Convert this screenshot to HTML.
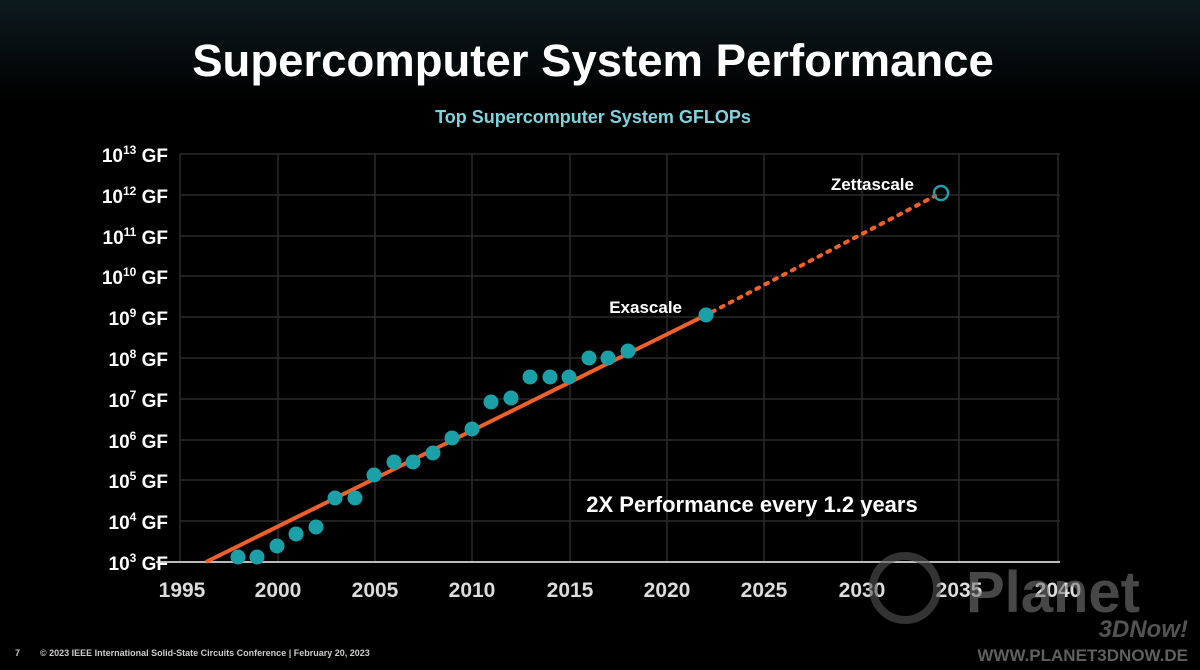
<!DOCTYPE html>
<html><head><style>
html,body{margin:0;padding:0;background:#000;}
svg{display:block}
text{font-family:"Liberation Sans",Arial,sans-serif;font-weight:bold}
</style></head><body>
<svg width="1200" height="670" viewBox="0 0 1200 670" xmlns="http://www.w3.org/2000/svg">
<defs>
<linearGradient id="bg" x1="0" y1="0" x2="0" y2="1">
<stop offset="0" stop-color="#0d1a1e"/><stop offset="0.15" stop-color="#000"/><stop offset="1" stop-color="#000"/>
</linearGradient>
</defs>
<rect width="1200" height="670" fill="url(#bg)"/>
<text x="593" y="76" fill="#fff" font-size="45.5" text-anchor="middle">Supercomputer System Performance</text>
<text x="593" y="123" fill="#7fd3dc" font-size="18" text-anchor="middle">Top Supercomputer System GFLOPs</text>
<g stroke="#2a2a2a" stroke-width="1.5">
<line x1="180" y1="154" x2="1060" y2="154"/><line x1="180" y1="195" x2="1060" y2="195"/>
<line x1="180" y1="236" x2="1060" y2="236"/><line x1="180" y1="276" x2="1060" y2="276"/>
<line x1="180" y1="317" x2="1060" y2="317"/><line x1="180" y1="358" x2="1060" y2="358"/>
<line x1="180" y1="399" x2="1060" y2="399"/><line x1="180" y1="440" x2="1060" y2="440"/>
<line x1="180" y1="480" x2="1060" y2="480"/><line x1="180" y1="521" x2="1060" y2="521"/>
<line x1="180" y1="154" x2="180" y2="562"/><line x1="278" y1="154" x2="278" y2="562"/>
<line x1="375" y1="154" x2="375" y2="562"/><line x1="472" y1="154" x2="472" y2="562"/>
<line x1="570" y1="154" x2="570" y2="562"/><line x1="667" y1="154" x2="667" y2="562"/>
<line x1="764" y1="154" x2="764" y2="562"/><line x1="862" y1="154" x2="862" y2="562"/>
<line x1="959" y1="154" x2="959" y2="562"/><line x1="1058" y1="154" x2="1058" y2="562"/>
</g>
<line x1="156" y1="562" x2="1060" y2="562" stroke="#bbb" stroke-width="2"/>
<g fill="#fff" font-size="19" text-anchor="end">
<text x="168" y="162">10<tspan font-size="12" dy="-8">13</tspan><tspan dy="8"> GF</tspan></text>
<text x="168" y="203">10<tspan font-size="12" dy="-8">12</tspan><tspan dy="8"> GF</tspan></text>
<text x="168" y="244">10<tspan font-size="12" dy="-8">11</tspan><tspan dy="8"> GF</tspan></text>
<text x="168" y="284">10<tspan font-size="12" dy="-8">10</tspan><tspan dy="8"> GF</tspan></text>
<text x="168" y="325">10<tspan font-size="12" dy="-8">9</tspan><tspan dy="8"> GF</tspan></text>
<text x="168" y="366">10<tspan font-size="12" dy="-8">8</tspan><tspan dy="8"> GF</tspan></text>
<text x="168" y="407">10<tspan font-size="12" dy="-8">7</tspan><tspan dy="8"> GF</tspan></text>
<text x="168" y="448">10<tspan font-size="12" dy="-8">6</tspan><tspan dy="8"> GF</tspan></text>
<text x="168" y="488">10<tspan font-size="12" dy="-8">5</tspan><tspan dy="8"> GF</tspan></text>
<text x="168" y="529">10<tspan font-size="12" dy="-8">4</tspan><tspan dy="8"> GF</tspan></text>
<text x="168" y="570">10<tspan font-size="12" dy="-8">3</tspan><tspan dy="8"> GF</tspan></text>
</g>
<g fill="#ddd" font-size="21" text-anchor="middle">
<text x="182" y="597">1995</text><text x="278" y="597">2000</text><text x="375" y="597">2005</text>
<text x="472" y="597">2010</text><text x="570" y="597">2015</text><text x="667" y="597">2020</text>
<text x="764" y="597">2025</text><text x="862" y="597">2030</text><text x="959" y="597">2035</text>
<text x="1058" y="597">2040</text>
</g>
<line x1="206" y1="562" x2="706" y2="315" stroke="#f0602a" stroke-width="4"/>
<line x1="712" y1="312" x2="935" y2="196" stroke="#f0602a" stroke-width="4" stroke-dasharray="3,7" stroke-linecap="round"/>
<g fill="#1ba0a8">
<circle cx="238" cy="557" r="7.5"/><circle cx="257" cy="557" r="7.5"/><circle cx="277" cy="546" r="7.5"/>
<circle cx="296" cy="534" r="7.5"/><circle cx="316" cy="527" r="7.5"/><circle cx="335" cy="498" r="7.5"/>
<circle cx="355" cy="498" r="7.5"/><circle cx="374" cy="475" r="7.5"/><circle cx="394" cy="462" r="7.5"/>
<circle cx="413" cy="462" r="7.5"/><circle cx="433" cy="453" r="7.5"/><circle cx="452" cy="438" r="7.5"/>
<circle cx="472" cy="429" r="7.5"/><circle cx="491" cy="402" r="7.5"/><circle cx="511" cy="398" r="7.5"/>
<circle cx="530" cy="377" r="7.5"/><circle cx="550" cy="377" r="7.5"/><circle cx="569" cy="377" r="7.5"/>
<circle cx="589" cy="358" r="7.5"/><circle cx="608" cy="358" r="7.5"/><circle cx="628" cy="351" r="7.5"/>
<circle cx="706" cy="315" r="7.5"/>
</g>
<circle cx="941" cy="193" r="7" fill="none" stroke="#1ba0a8" stroke-width="2.5"/>
<text x="914" y="190" fill="#fff" font-size="17" text-anchor="end">Zettascale</text>
<text x="682" y="313" fill="#fff" font-size="17" text-anchor="end">Exascale</text>
<text x="752" y="512" fill="#fff" font-size="22" text-anchor="middle">2X Performance every 1.2 years</text>
<text x="15" y="656" fill="#ccc" font-size="9" font-weight="normal">7</text>
<text x="40" y="656" fill="#ccc" font-size="9" font-weight="normal">© 2023 IEEE International Solid-State Circuits Conference  |  February 20, 2023</text>
<circle cx="905" cy="588" r="32" fill="none" stroke="#555" stroke-width="8" opacity="0.6"/>
<text x="1140" y="612" fill="#777" font-size="58" text-anchor="end" opacity="0.6">Planet</text>
<text x="1188" y="637" fill="#777" font-size="24" font-style="italic" text-anchor="end" opacity="0.7">3DNow!</text>
<text x="1188" y="661" fill="#888" font-size="17" text-anchor="end" opacity="0.7">WWW.PLANET3DNOW.DE</text>
</svg>
</body></html>
